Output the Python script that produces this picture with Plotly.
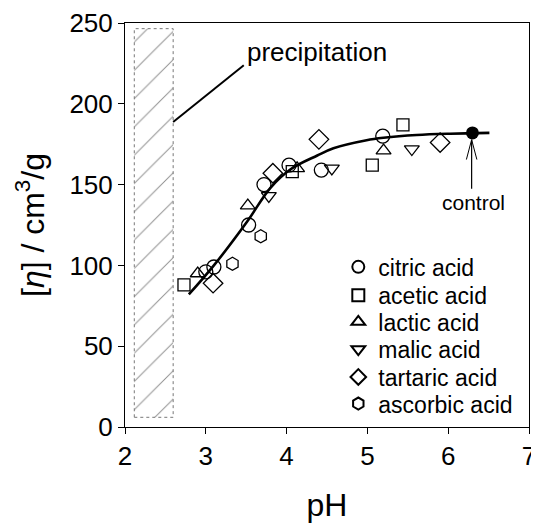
import plotly.graph_objects as go

# ---- data ----
citric_ph = [3.00, 3.10, 3.53, 3.72, 4.03, 4.43, 5.19]
citric_eta = [96, 99, 125, 150, 162, 159, 180]

acetic_ph = [2.73, 4.07, 5.06, 5.44]
acetic_eta = [88, 158, 162, 187]

lactic_ph = [2.90, 3.52, 4.13, 5.20]
lactic_eta = [95, 137, 160, 171]

malic_ph = [3.78, 4.56, 5.55]
malic_eta = [143, 160, 172]

tartaric_ph = [3.09, 3.83, 4.40, 5.90]
tartaric_eta = [89, 157, 178, 176]

ascorbic_ph = [3.33, 3.68]
ascorbic_eta = [101, 118]

control_ph = [6.30]
control_eta = [182]

fit_ph = [2.79, 3.10, 3.51, 3.80, 4.05, 4.38, 4.58, 4.99, 5.20, 5.61, 6.02, 6.51]
fit_eta = [82, 100, 127, 148, 159.5, 168, 172.5, 177.5, 179, 180.7, 181.5, 182]

precip_ph = [2.115, 2.596]
precip_eta = [6, 246.5]

x_ticks = [2, 3, 4, 5, 6, 7]
y_ticks = [0, 50, 100, 150, 200, 250]

FONT = "Liberation Sans, Arial, Helvetica, sans-serif"

fig = go.Figure()

# hatched precipitation region
fig.add_trace(go.Scatter(
    x=[precip_ph[0], precip_ph[1], precip_ph[1], precip_ph[0], precip_ph[0]],
    y=[precip_eta[0], precip_eta[0], precip_eta[1], precip_eta[1], precip_eta[0]],
    mode="lines", fill="toself",
    line=dict(color="#777777", width=1, dash="dot"),
    fillcolor="rgba(0,0,0,0)",
    fillpattern=dict(shape="/", size=20, solidity=0.05, fgcolor="#222222", bgcolor="white"),
    showlegend=False, hoverinfo="skip",
))

# fit curve
fig.add_trace(go.Scatter(
    x=fit_ph, y=fit_eta, mode="lines", line=dict(color="black", width=2.6, shape="spline", smoothing=1.0),
    showlegend=False, hoverinfo="skip",
))

series = [
    ("citric acid", citric_ph, citric_eta, "circle-open", 14),
    ("acetic acid", acetic_ph, acetic_eta, "square-open", 12),
    ("lactic acid", lactic_ph, lactic_eta, "triangle-up-open", 13),
    ("malic acid", malic_ph, malic_eta, "triangle-down-open", 13),
    ("tartaric acid", tartaric_ph, tartaric_eta, "diamond-open", 15),
    ("ascorbic acid", ascorbic_ph, ascorbic_eta, "hexagon-open", 13),
]
legend_rows = [0.3963, 0.3262, 0.2601, 0.1925, 0.1238, 0.0580]
legend_ids = ["legend", "legend2", "legend3", "legend4", "legend5", "legend6"]
for (name, xs, ys, sym, sz), lid in zip(series, legend_ids):
    fig.add_trace(go.Scatter(
        x=xs, y=ys, mode="markers", name=name, legend=lid,
        marker=dict(symbol=sym, size=sz, color="black", line=dict(color="black", width=1.3)),
    ))

# control point
fig.add_trace(go.Scatter(
    x=control_ph, y=control_eta, mode="markers",
    marker=dict(symbol="circle", size=13, color="black"),
    showlegend=False, hoverinfo="skip",
))

# precipitation pointer line + text
fig.add_shape(type="line", x0=precip_ph[1], y0=188.7, x1=3.47, y1=223.8,
              line=dict(color="black", width=2))
fig.add_annotation(x=3.49, y=232, text="precipitation", showarrow=False,
                   xanchor="left", yanchor="middle", font=dict(size=26, color="black", family=FONT))

# control arrow
fig.add_shape(type="line", x0=control_ph[0] - 0.01, y0=147.5, x1=control_ph[0] - 0.01, y1=177.8,
              line=dict(color="black", width=1.2))
fig.add_shape(type="line", x0=control_ph[0] - 0.01, y0=177.8, x1=control_ph[0] - 0.075, y1=165.5,
              line=dict(color="black", width=1))
fig.add_shape(type="line", x0=control_ph[0] - 0.01, y0=177.8, x1=control_ph[0] + 0.055, y1=165.5,
              line=dict(color="black", width=1))
fig.add_annotation(x=control_ph[0] + 0.01, y=139, text="control", showarrow=False,
                   xanchor="center", yanchor="middle", font=dict(size=21, color="black", family=FONT))

legend_common = dict(x=0.528, xanchor="left", yanchor="middle",
                     bgcolor="rgba(0,0,0,0)", borderwidth=0,
                     font=dict(size=23, family=FONT, color="black"), itemsizing="constant")
legend_layout = {lid: dict(y=yy, **legend_common) for lid, yy in zip(legend_ids, legend_rows)}

fig.update_layout(
    width=531, height=515,
    margin=dict(l=117, r=10, t=15, b=96, autoexpand=False),
    plot_bgcolor="white", paper_bgcolor="white",
    font=dict(family=FONT, size=26, color="black"),
    showlegend=True,
    **legend_layout,
)
fig.update_xaxes(
    range=[2, 7], tickvals=x_ticks, ticks="outside", ticklen=6, tickwidth=1, tickcolor="black",
    showline=True, linecolor="black", linewidth=1, mirror=True, showgrid=False, zeroline=False,
    automargin=False,
    tickfont=dict(size=26), title=dict(text="pH", font=dict(size=32), standoff=24),
)
fig.update_yaxes(
    range=[0, 250], tickvals=y_ticks, ticks="outside", ticklen=6, tickwidth=1, tickcolor="black",
    showline=True, linecolor="black", linewidth=1, mirror=True, showgrid=False, zeroline=False,
    automargin=False,
    tickfont=dict(size=26),
    title=dict(text="[<i>η</i>] / cm<sup>3</sup>/g", font=dict(size=32), standoff=15),
)

fig.write_html("out.html")
